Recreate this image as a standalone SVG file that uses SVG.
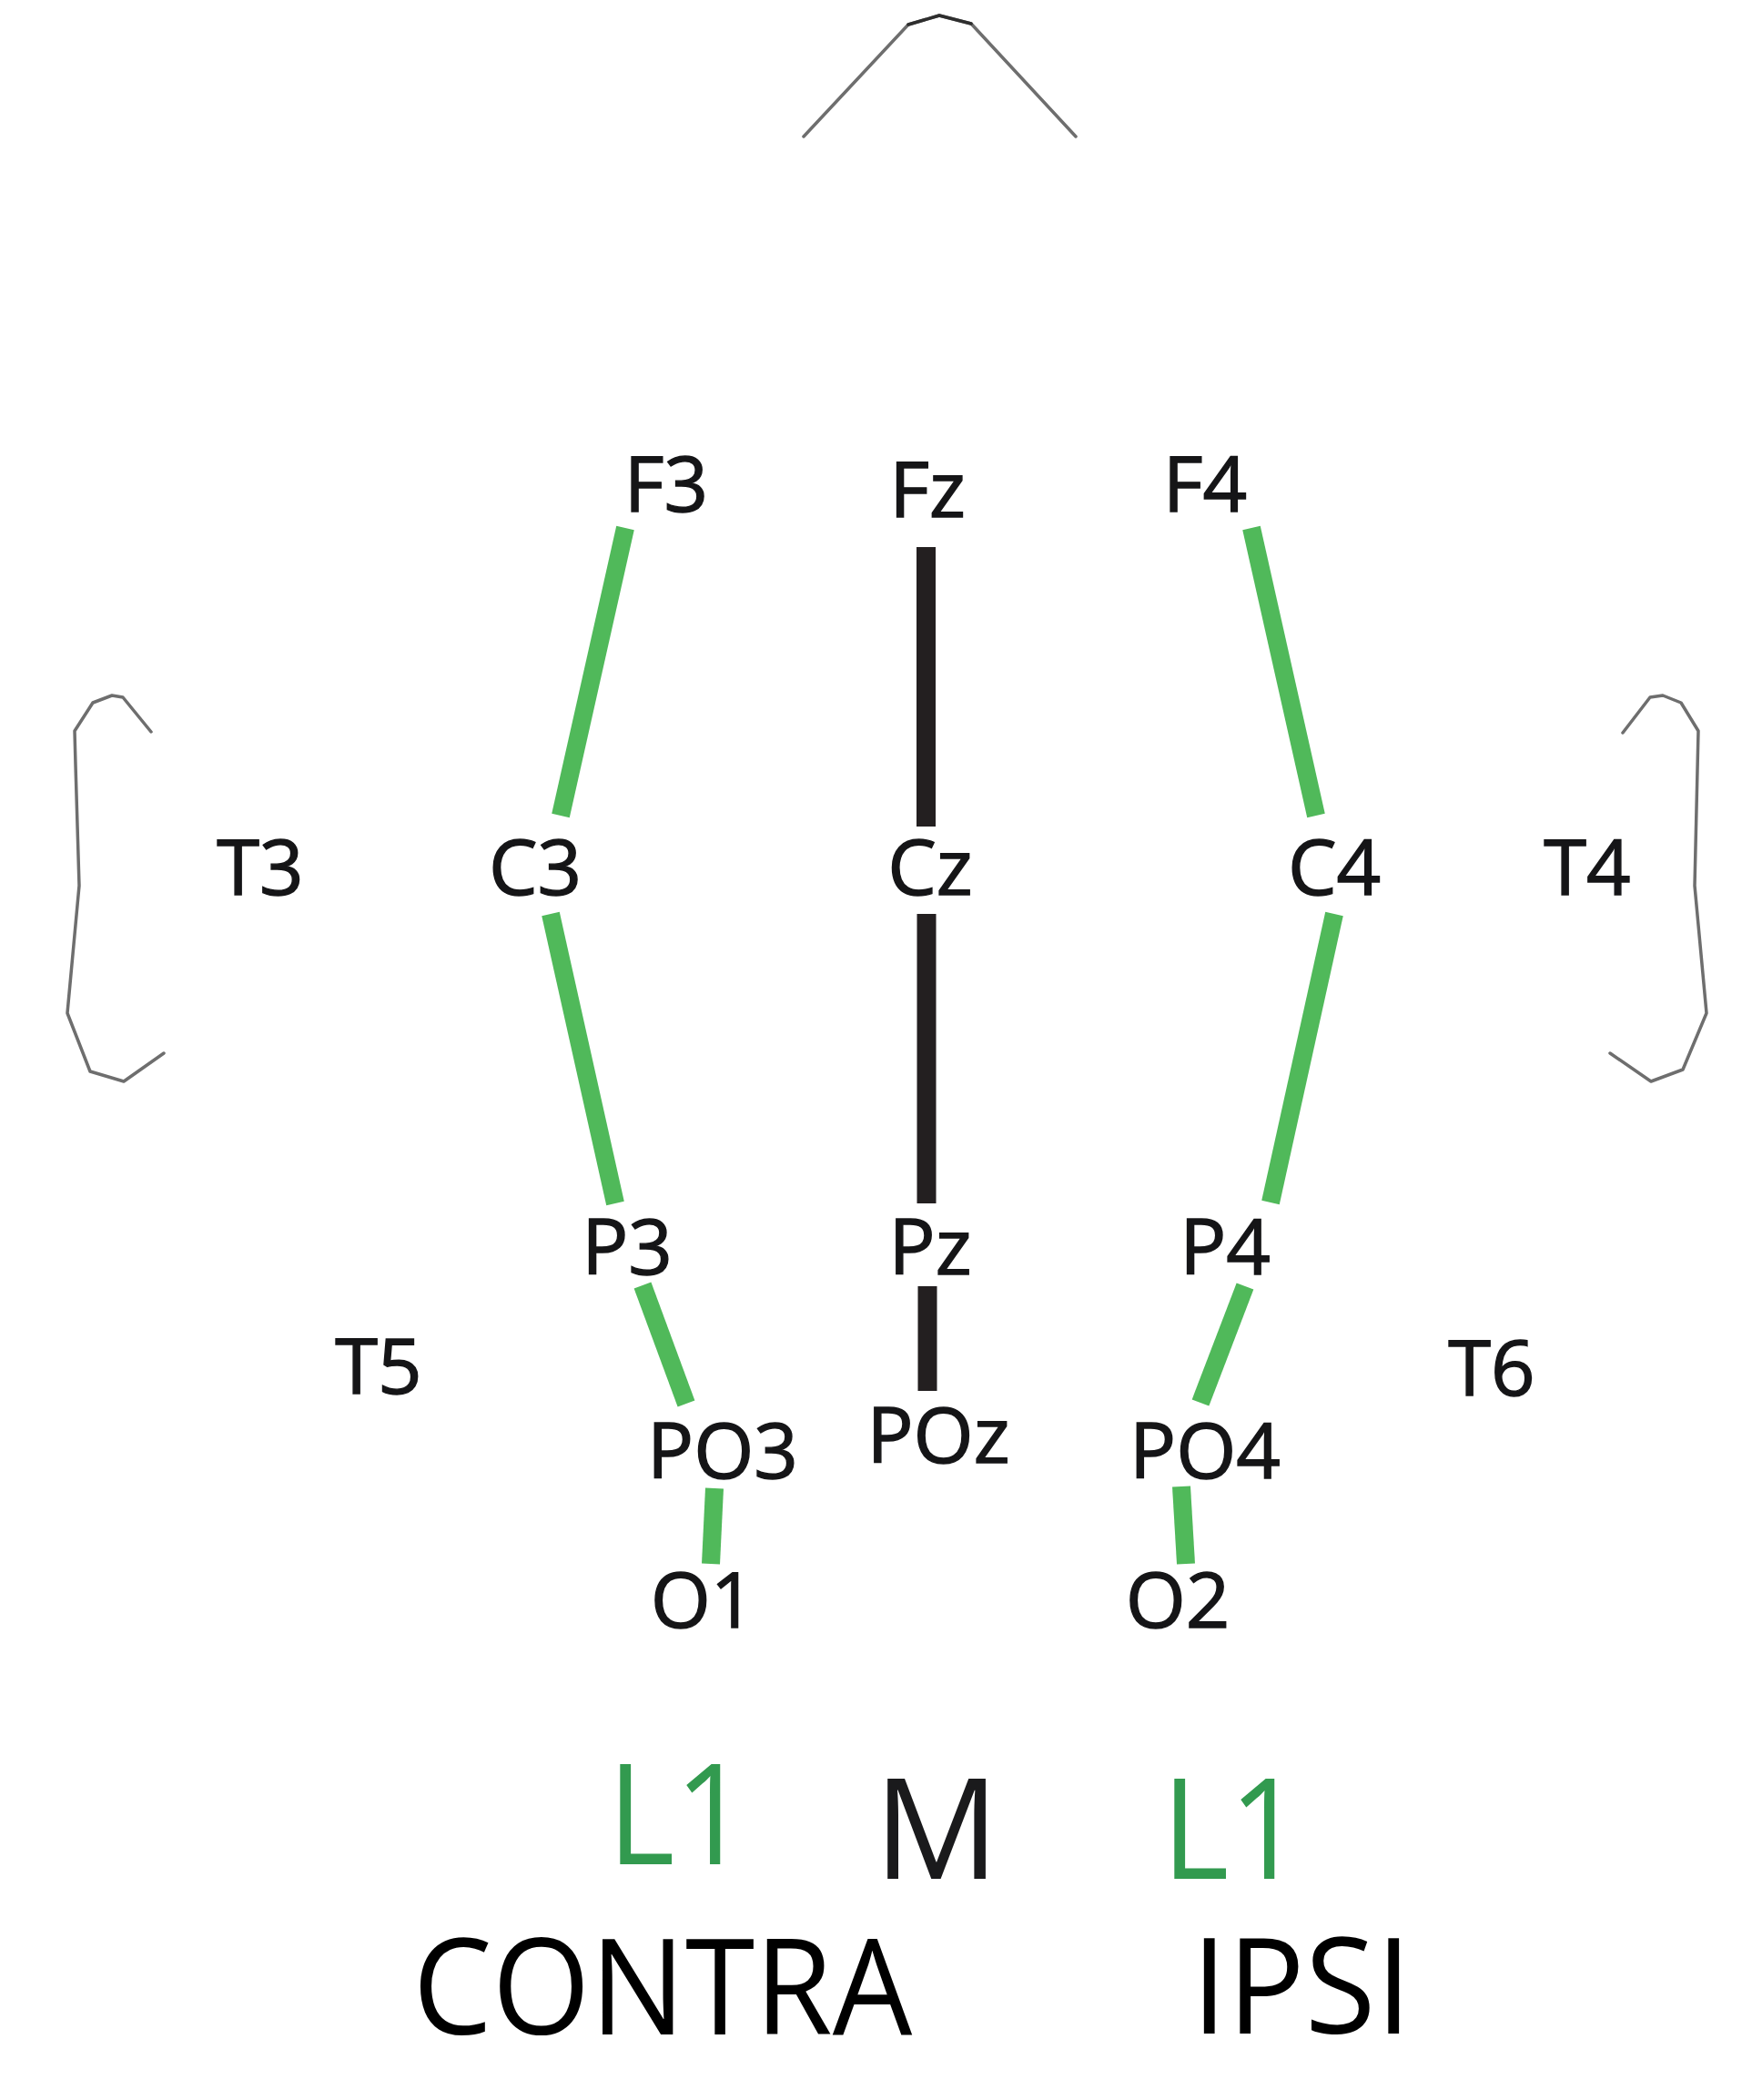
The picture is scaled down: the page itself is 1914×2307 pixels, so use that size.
<svg xmlns="http://www.w3.org/2000/svg" width="1914" height="2307" viewBox="0 0 1914 2307">
<style>
  .head { fill: none; stroke: #6e6e6e; stroke-width: 3.5; stroke-linejoin: round; stroke-linecap: round; }
  .lbl { font-family: "Open Sans", "Noto Sans", "DejaVu Sans", sans-serif; font-size: 85px; fill: #151517; stroke: #151517; stroke-width: 1.4; text-anchor: middle; }
  .big { font-family: "Open Sans", "Noto Sans", "DejaVu Sans", sans-serif; text-anchor: middle; }
  .g { stroke: #50b95a; stroke-width: 20; stroke-linecap: butt; fill: none; }
  .k { stroke: #231f20; stroke-width: 21; stroke-linecap: butt; fill: none; }
</style>
<rect width="1914" height="2307" fill="#ffffff"/>
<g id="head-outline">
  <polyline class="head" points="883,150 998,27 1032,17 1067,26 1182,150"/>
  <polyline class="head" style="stroke:#2e2e2e" points="998,27 1032,17 1067,26"/>
  <polyline class="head" points="166,804 135,766 123,764 102,772 82,803 83,840 87,973 74,1113 99,1177 136,1188 180,1157"/>
  <polyline class="head" points="1783,805 1813,766 1827,764 1847,772 1866,803 1862,973 1875,1113 1849,1175 1814,1188 1769,1157"/>
</g>
<g id="connectors">
  <line class="g" x1="687" y1="580" x2="616" y2="896"/>
  <line class="g" x1="605" y1="1004" x2="676" y2="1322"/>
  <line class="g" x1="706" y1="1412" x2="754" y2="1542"/>
  <line class="g" x1="785" y1="1635" x2="781" y2="1718"/>
  <line class="g" x1="1375" y1="580" x2="1446" y2="896"/>
  <line class="g" x1="1466" y1="1004" x2="1396" y2="1321"/>
  <line class="g" x1="1368" y1="1413" x2="1319" y2="1541"/>
  <line class="g" x1="1298" y1="1633" x2="1303" y2="1718"/>
  <line class="k" x1="1017.5" y1="601" x2="1017.5" y2="908"/>
  <line class="k" x1="1018" y1="1004" x2="1018" y2="1322"/>
  <line class="k" x1="1019" y1="1413" x2="1019" y2="1528"/>
</g>
<g id="F3"><text class="lbl" x="732" y="562">F3</text></g>
<g id="Fz"><text class="lbl" x="1019" y="568">Fz</text></g>
<g id="F4"><text class="lbl" x="1324" y="562">F4</text></g>
<g id="T3"><text class="lbl" x="286" y="983">T3</text></g>
<g id="C3"><text class="lbl" x="588" y="983">C3</text></g>
<g id="Cz"><text class="lbl" x="1022" y="983">Cz</text></g>
<g id="C4"><text class="lbl" x="1466" y="983">C4</text></g>
<g id="T4"><text class="lbl" x="1744" y="983">T4</text></g>
<g id="P3"><text class="lbl" x="689" y="1400">P3</text></g>
<g id="Pz"><text class="lbl" x="1022" y="1400">Pz</text></g>
<g id="P4"><text class="lbl" x="1346" y="1400">P4</text></g>
<g id="T5"><text class="lbl" x="416" y="1531">T5</text></g>
<g id="T6"><text class="lbl" x="1639" y="1533">T6</text></g>
<g id="PO3"><text class="lbl" x="794" y="1624">PO3</text></g>
<g id="POz"><text class="lbl" x="1031" y="1607">POz</text></g>
<g id="PO4"><text class="lbl" x="1324" y="1624">PO4</text></g>
<g id="O1"><text class="lbl" x="772" y="1788">O1</text></g>
<g id="O2"><text class="lbl" x="1294" y="1788">O2</text></g>
<g id="L1-contra"><text class="big" x="745" y="2048" font-size="154" fill="#329a4f" textLength="155" lengthAdjust="spacingAndGlyphs">L1</text></g>
<g id="M"><text class="big" x="1029" y="2064" font-size="153" fill="#1a1a1c">M</text></g>
<g id="L1-ipsi"><text class="big" x="1354" y="2064" font-size="153" fill="#329a4f" textLength="155" lengthAdjust="spacingAndGlyphs">L1</text></g>
<g id="CONTRA"><text class="big" x="728" y="2235" font-size="147" fill="#000000" textLength="549" lengthAdjust="spacingAndGlyphs">CONTRA</text></g>
<g id="IPSI"><text class="big" x="1430" y="2234" font-size="147" fill="#000000" textLength="242" lengthAdjust="spacingAndGlyphs">IPSI</text></g>
</svg>
